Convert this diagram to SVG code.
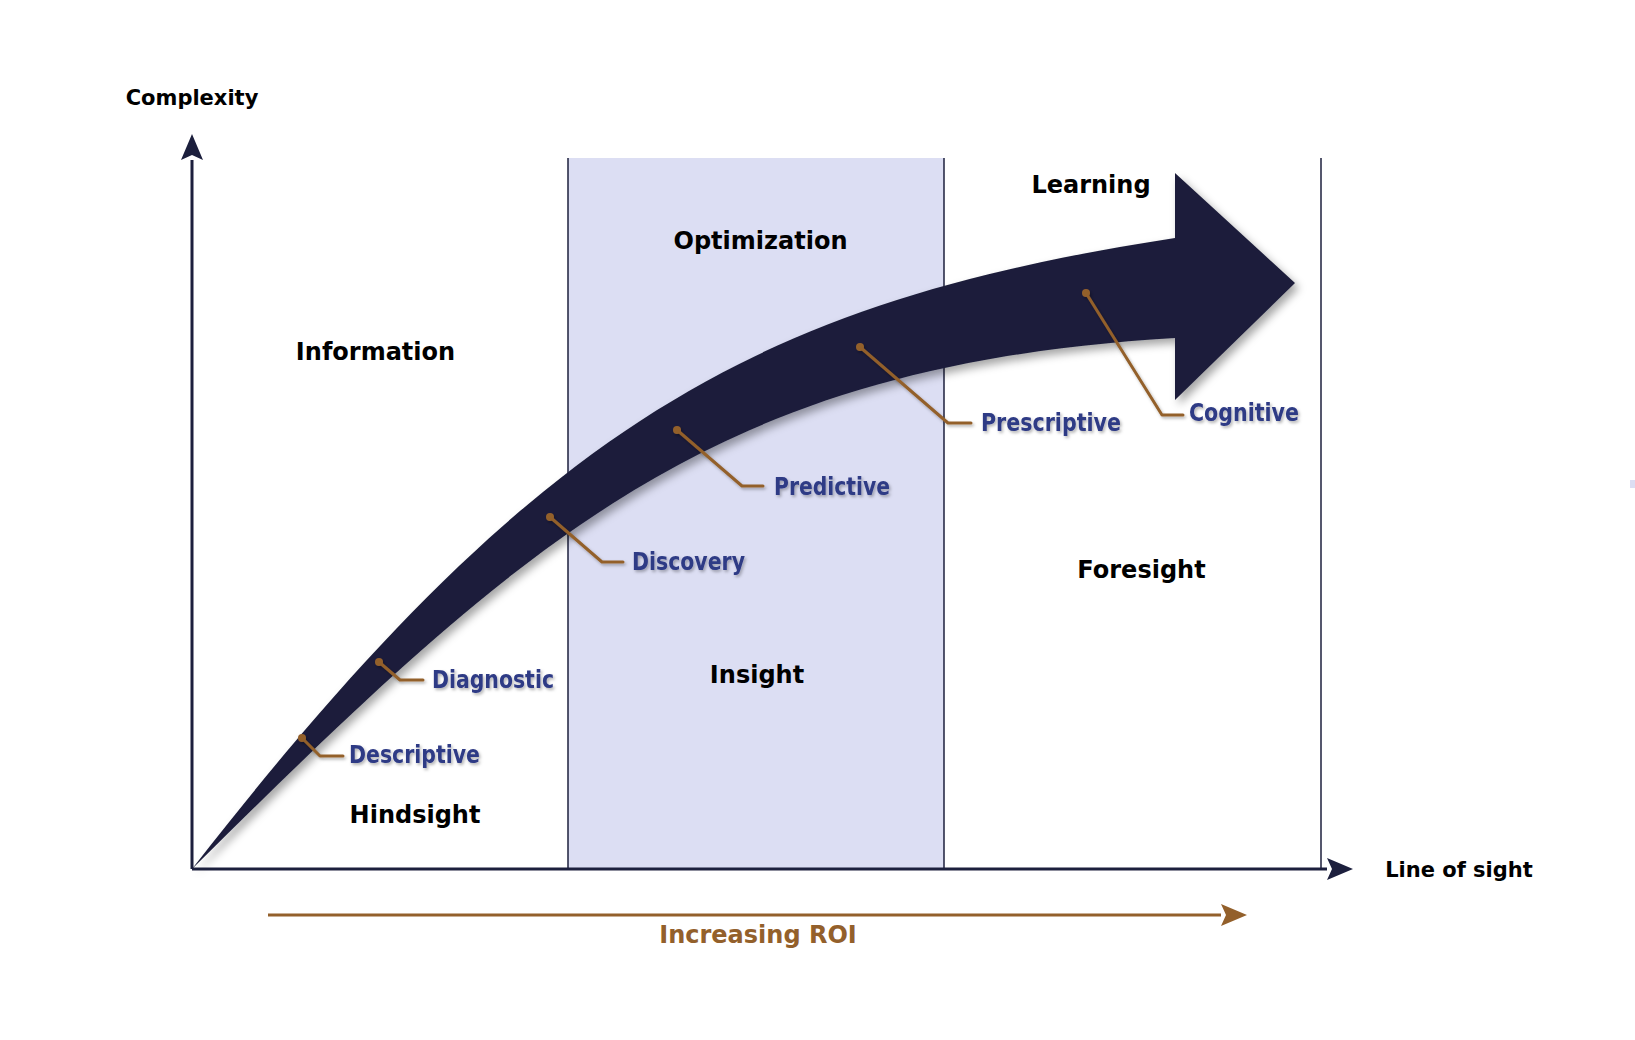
<svg xmlns="http://www.w3.org/2000/svg" width="1635" height="1040" viewBox="0 0 1635 1040">
  <defs>
    <filter id="shadow" x="-10%" y="-10%" width="130%" height="130%">
      <feDropShadow dx="4" dy="5" stdDeviation="4" flood-color="#000" flood-opacity="0.35"/>
    </filter>
    <filter id="tshadow" x="-10%" y="-30%" width="130%" height="170%">
      <feDropShadow dx="1.5" dy="2" stdDeviation="1.5" flood-color="#000" flood-opacity="0.3"/>
    </filter>
    <marker id="navyHead" markerUnits="userSpaceOnUse" markerWidth="28" markerHeight="24" refX="0" refY="12" orient="auto">
      <path d="M0,1 L26,12 L0,23 L5,12 Z" fill="#1c1f3d"/>
    </marker>
    <marker id="brownHead" markerUnits="userSpaceOnUse" markerWidth="28" markerHeight="24" refX="0" refY="12" orient="auto">
      <path d="M0,1 L26,12 L0,23 L5,12 Z" fill="#93602b"/>
    </marker>
  </defs>
  <style>
    .region { font-family: "DejaVu Sans", Verdana, sans-serif; font-weight: bold; font-size: 24px; fill: #000; text-anchor: middle; }
    .axislbl { font-family: "DejaVu Sans", Verdana, sans-serif; font-weight: bold; font-size: 21px; fill: #000; text-anchor: middle; }
    .stage { font-family: "DejaVu Sans Condensed", "DejaVu Sans", Tahoma, sans-serif; font-stretch: condensed; font-weight: bold; font-size: 25px; fill: #2e3a85; }
    .roi { font-family: "DejaVu Sans", Verdana, sans-serif; font-weight: bold; font-size: 24px; fill: #93602b; text-anchor: middle; }
    .leader { fill: none; stroke: #93602b; stroke-width: 3; stroke-linejoin: round; stroke-linecap: round; }
    .dot { fill: #93602b; }
    .divider { stroke: #1c1f3d; stroke-width: 1.5; }
    .axis { stroke: #1c1f3d; stroke-width: 3; fill: none; }
  </style>

  <rect width="1635" height="1040" fill="#ffffff"/>

  <g id="bands">
    <rect x="568" y="158" width="376" height="711" fill="#dcdef3"/>
    <line class="divider" x1="568" y1="158" x2="568" y2="869"/>
    <line class="divider" x1="944" y1="158" x2="944" y2="869"/>
    <line class="divider" x1="1321" y1="158" x2="1321" y2="869"/>
    <rect x="1630" y="480" width="5" height="8" fill="#dcdef3"/>
  </g>

  <g id="connectors">
    <line class="axis" x1="192" y1="869" x2="192" y2="160" marker-end="url(#navyHead)"/>
    <line class="axis" x1="192" y1="869" x2="1327" y2="869" marker-end="url(#navyHead)"/>
    <line x1="268" y1="915" x2="1221" y2="915" stroke="#93602b" stroke-width="3" marker-end="url(#brownHead)"/>
  </g>

  <g id="growth-arrow" filter="url(#shadow)">
    <path d="M192,869 C538,424 755,302.7 1175,238 L1175,173 L1295,283 L1175,400 L1175,338 C715,365.6 532,532 192,869 Z" fill="#1c1e3a"/>
  </g>

  <g id="region-labels">
    <text class="axislbl" x="192" y="105">Complexity</text>
    <text class="axislbl" x="1459" y="877">Line of sight</text>
    <text class="region" x="375.5" y="360">Information</text>
    <text class="region" x="760.5" y="249">Optimization</text>
    <text class="region" x="1091" y="193">Learning</text>
    <text class="region" x="415" y="823">Hindsight</text>
    <text class="region" x="757" y="683">Insight</text>
    <text class="region" x="1141.5" y="578">Foresight</text>
  </g>

  <g id="roi">
    <text class="roi" x="758" y="943">Increasing ROI</text>
  </g>

  <g id="stage-descriptive" filter="url(#tshadow)">
    <polyline class="leader" points="302,738 320,756 343,756"/>
    <circle class="dot" cx="302" cy="738" r="4"/>
    <text class="stage" x="349" y="763" textLength="131" lengthAdjust="spacingAndGlyphs">Descriptive</text>
  </g>
  <g id="stage-diagnostic" filter="url(#tshadow)">
    <polyline class="leader" points="379,662 400,680 423,680"/>
    <circle class="dot" cx="379" cy="662" r="4"/>
    <text class="stage" x="432" y="688" textLength="122" lengthAdjust="spacingAndGlyphs">Diagnostic</text>
  </g>
  <g id="stage-discovery" filter="url(#tshadow)">
    <polyline class="leader" points="550,517 602,562 623,562"/>
    <circle class="dot" cx="550" cy="517" r="4"/>
    <text class="stage" x="632" y="570" textLength="113" lengthAdjust="spacingAndGlyphs">Discovery</text>
  </g>
  <g id="stage-predictive" filter="url(#tshadow)">
    <polyline class="leader" points="677,430 742,486 763,486"/>
    <circle class="dot" cx="677" cy="430" r="4"/>
    <text class="stage" x="774" y="495" textLength="116" lengthAdjust="spacingAndGlyphs">Predictive</text>
  </g>
  <g id="stage-prescriptive" filter="url(#tshadow)">
    <polyline class="leader" points="860,347 948,423 971,423"/>
    <circle class="dot" cx="860" cy="347" r="4"/>
    <text class="stage" x="981" y="431" textLength="140" lengthAdjust="spacingAndGlyphs">Prescriptive</text>
  </g>
  <g id="stage-cognitive" filter="url(#tshadow)">
    <polyline class="leader" points="1086,293 1162,415 1183,415"/>
    <circle class="dot" cx="1086" cy="293" r="4"/>
    <text class="stage" x="1189" y="421" textLength="110" lengthAdjust="spacingAndGlyphs">Cognitive</text>
  </g>
</svg>
